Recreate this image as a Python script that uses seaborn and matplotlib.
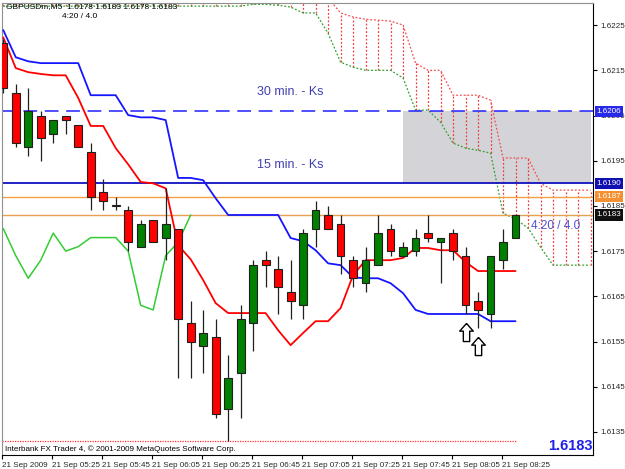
import numpy as np
import pandas as pd
import matplotlib
matplotlib.use("Agg")
import matplotlib.pyplot as plt
import matplotlib.transforms as mtransforms
import seaborn as sns

# ---- data (5 min GBPUSD bars, 21 Sep 2009) ----
opens = [1.6221, 1.6210, 1.6198, 1.6205, 1.6201, 1.6205, 1.6203, 1.6197, 1.6188, 1.6185,
         1.6184, 1.6176, 1.6182, 1.6178, 1.6180, 1.6159, 1.6154, 1.6156, 1.6140, 1.6148,
         1.6159, 1.6173, 1.6171, 1.6166, 1.6163, 1.6180, 1.6183, 1.6181, 1.6173, 1.6168,
         1.6172, 1.6180, 1.6174, 1.6175, 1.6179, 1.6177, 1.6179, 1.6174, 1.6164, 1.6161,
         1.6173, 1.6178]
highs = [1.6222, 1.6212, 1.6211, 1.6206, 1.6204, 1.6205, 1.6203, 1.6199, 1.6191, 1.6187,
         1.6185, 1.6182, 1.6182, 1.6189, 1.6180, 1.6164, 1.6162, 1.6160, 1.6152, 1.6163,
         1.6173, 1.6175, 1.6174, 1.6173, 1.6180, 1.6186, 1.6185, 1.6183, 1.6174, 1.6176,
         1.6183, 1.6181, 1.6177, 1.6180, 1.6183, 1.6178, 1.6180, 1.6176, 1.6166, 1.6174,
         1.6180, 1.6183]
lows = [1.6210, 1.6198, 1.6196, 1.6195, 1.6199, 1.6201, 1.6198, 1.6184, 1.6184, 1.6184,
        1.6175, 1.6176, 1.6177, 1.6173, 1.6147, 1.6147, 1.6148, 1.6138, 1.6133, 1.6138,
        1.6153, 1.6167, 1.6161, 1.6160, 1.6160, 1.6176, 1.6180, 1.6170, 1.6167, 1.6166,
        1.6172, 1.6174, 1.6174, 1.6174, 1.6177, 1.6168, 1.6173, 1.6161, 1.6158, 1.6158,
        1.6171, 1.6178]
closes = [1.6211, 1.6199, 1.6206, 1.6200, 1.6204, 1.6204, 1.6198, 1.6187, 1.6186, 1.6185,
          1.6177, 1.6181, 1.6177, 1.6181, 1.6160, 1.6155, 1.6157, 1.6139, 1.6147, 1.6160,
          1.6172, 1.6172, 1.6167, 1.6164, 1.6179, 1.6184, 1.6180, 1.6174, 1.6169, 1.6173,
          1.6179, 1.6175, 1.6176, 1.6178, 1.6178, 1.6178, 1.6175, 1.6163, 1.6162, 1.6174,
          1.6177, 1.6183]

tenkan = [1.62223, 1.62155, 1.62146, 1.62142, 1.62139, 1.62139, 1.62089, 1.62027, 1.62027, 1.61978,
          1.61942, 1.61903, 1.61900, 1.61889, 1.61763, 1.61732, 1.61686, 1.61635, 1.61613, 1.61613,
          1.61613, 1.61613, 1.61575, 1.61542, 1.61569, 1.61595, 1.61595, 1.61624, 1.61697, 1.61730,
          1.61730, 1.61730, 1.61735, 1.61757, 1.61757, 1.61752, 1.61752, 1.61726, 1.61706, 1.61706,
          1.61706, 1.61706]
kijun = [1.62239, 1.62179, 1.62170, 1.62166, 1.62166, 1.62166, 1.62166, 1.62095, 1.62095, 1.62095,
         1.62051, 1.62046, 1.62046, 1.62040, 1.61912, 1.61912, 1.61907, 1.61867, 1.61830, 1.61830,
         1.61830, 1.61830, 1.61830, 1.61779, 1.61772, 1.61752, 1.61723, 1.61719, 1.61692, 1.61690,
         1.61690, 1.61679, 1.61657, 1.61620, 1.61611, 1.61611, 1.61611, 1.61611, 1.61611, 1.61595,
         1.61595, 1.61595]

# senkou spans (shifted 26 bars ahead, so they run past the last candle)
span_a = [1.62310] * 27 + [1.62277, 1.62268, 1.62263, 1.62261, 1.62259, 1.62250, 1.62166,
                           1.62150, 1.62150, 1.62095, 1.62095, 1.62095, 1.62084, 1.61956,
                           1.61956, 1.61956, 1.61900, 1.61885, 1.61885, 1.61885, 1.61885]
span_b = [1.62292] * 20 + [1.62296, 1.62296, 1.62294, 1.62290, 1.62277, 1.62277, 1.62232,
                           1.62168, 1.62157, 1.62150, 1.62150, 1.62150, 1.62133, 1.62062,
                           1.62062, 1.62035, 1.61989, 1.61978, 1.61973, 1.61967, 1.61834,
                           1.61821, 1.61801, 1.61759, 1.61719, 1.61719, 1.61719, 1.61719]
chikou_shift = 26

time_labels = ["21 Sep 2009", "21 Sep 05:25", "21 Sep 05:45", "21 Sep 06:05", "21 Sep 06:25",
               "21 Sep 06:45", "21 Sep 07:05", "21 Sep 07:25", "21 Sep 07:45", "21 Sep 08:05",
               "21 Sep 08:25"]
price_ticks = [1.6225, 1.6215, 1.6205, 1.6195, 1.6185, 1.6175, 1.6165, 1.6155, 1.6145, 1.6135]

ks_30 = 1.6206
ks_15 = 1.6190
level_orange = 1.6187
bid = 1.6183
day_low = 1.6133
box_left, box_right, box_low, box_high = 32, 47, 1.6190, 1.6206
arrow_x = [37, 38]
arrow_y = [1.61571, 1.61541]

# ---- frame ----
df = pd.DataFrame({"bar": np.arange(len(opens)), "open": opens, "high": highs,
                   "low": lows, "close": closes, "tenkan": tenkan, "kijun": kijun})
cloud = pd.DataFrame({"bar": np.arange(len(span_a)), "a": span_a, "b": span_b})
chikou = pd.DataFrame({"bar": df["bar"][:-chikou_shift].values,
                       "val": df["close"][chikou_shift:].values})

sns.set_style("white")
plt.rcParams["font.family"] = ["Liberation Sans", "DejaVu Sans"]

fig = plt.figure(figsize=(6.25, 4.69), dpi=100)
ax = fig.add_axes([2 / 625, 14 / 469, 591 / 625, 452 / 469])

# gray rectangle zone
ax.axhspan(box_low, box_high, xmin=(box_left + 0.08) / 47.28, xmax=(box_right + 0.08) / 47.28,
           color="#d4d4d8", zorder=0, lw=0)

# cloud: dotted spans and dotted vertical hatch
ax.vlines(cloud["bar"], cloud["b"], cloud["a"], colors="#f03c3c", lw=0.9,
          linestyles=(0, (1.5, 1.5)), zorder=1)
sns.lineplot(data=cloud, x="bar", y="a", ax=ax, color="#f05050", lw=0.9,
             linestyle=(0, (1.5, 1.5)), zorder=1)
sns.lineplot(data=cloud, x="bar", y="b", ax=ax, color="#30a030", lw=0.9,
             linestyle=(0, (1.5, 1.5)), zorder=1)

# horizontal levels
ax.axhline(ks_30, color="#2020ff", lw=1.1, dashes=(9, 5), zorder=2)
ax.axhline(ks_15, color="#1010c0", lw=1.3, zorder=2)
ax.axhline(level_orange, color="#f5a040", lw=1.0, zorder=2)
ax.axhline(bid, color="#e8a050", lw=1.0, zorder=2)
ax.hlines(day_low, -0.1, len(opens) - 1, colors="#ff3030", lw=0.9,
          linestyles=(0, (1, 1)), zorder=2)

# ichimoku lines
sns.lineplot(data=df, x="bar", y="kijun", ax=ax, color="#1515ff", lw=1.3, zorder=3)
sns.lineplot(data=df, x="bar", y="tenkan", ax=ax, color="#ff0000", lw=1.3, zorder=3)
sns.lineplot(data=chikou, x="bar", y="val", ax=ax, color="#33cc33", lw=1.1, zorder=3)

# candles
up = df["close"] >= df["open"]
ax.vlines(df["bar"], df["low"], df["high"], colors="#202020", lw=0.9, zorder=4)
body_lo = np.minimum(df["open"], df["close"])
body_h = np.maximum(np.abs(df["close"] - df["open"]), 0.000015)
ax.bar(df["bar"], body_h, bottom=body_lo, width=0.62,
       color=np.where(up, "#008000", "#ff0000"), edgecolor="#202020", lw=0.8, zorder=5)

# arrows
arrow_marker = [(0, 1), (0.75, 0.15), (0.35, 0.15), (0.35, -1), (-0.35, -1),
                (-0.35, 0.15), (-0.75, 0.15), (0, 1)]
sns.scatterplot(x=arrow_x, y=arrow_y, ax=ax, marker=arrow_marker, s=170,
                color="white", edgecolor="black", linewidth=1.0, zorder=6)

# texts
tr = mtransforms.blended_transform_factory(ax.transAxes, ax.transData)
ax.text(0.432, ks_30 + 0.00035, "30 min. - Ks", color="#4040b0", fontsize=9, transform=tr)
ax.text(0.432, ks_15 + 0.00035, "15 min. - Ks", color="#4040b0", fontsize=9, transform=tr)
ax.text(len(opens) + 0.2, 1.61805, "4:20 / 4.0", color="#5050d8", fontsize=8.5,
        va="center", zorder=7)

fig.text(6 / 625, 1 - 7 / 469, "GBPUSDm,M5  1.6178 1.6183 1.6178 1.6183",
         fontsize=6, va="center", color="black")
fig.text(62 / 625, 1 - 16 / 469, "4:20 / 4.0", fontsize=6, va="center", color="black")
fig.text(5 / 625, 1 - 449 / 469,
         "Interbank FX Trader 4, \u00a9 2001-2009 MetaQuotes Software Corp.",
         fontsize=5.8, va="center", color="black")
fig.text(593 / 625, 1 - 446 / 469, "1.6183", fontsize=10.5, fontweight="bold",
         color="#2020e8", ha="right", va="center")

# right-hand price tags
for val, bg in [(ks_30, "#2828e8"), (ks_15, "#1010b0"), (level_orange, "#f59030"), (bid, "#101010")]:
    ax.text(1.006, val, f"{val:.4f}", transform=tr, fontsize=5.8, color="white",
            va="center", ha="left", zorder=8, clip_on=False,
            bbox=dict(boxstyle="square,pad=0.25", fc=bg, ec="none"))

# axes
ax.set_xlim(-0.08, 47.2)
ax.set_ylim(1.61299, 1.62299)
ax.yaxis.tick_right()
ax.set_yticks(price_ticks)
ax.set_yticklabels([f"{p:.4f}" for p in price_ticks])
ax.set_xticks([4 * i - 0.1 for i in range(len(time_labels))])
ax.set_xticklabels(time_labels, ha="left")
ax.tick_params(axis="both", labelsize=5.8, length=3, width=0.8, color="black", pad=2,
               direction="out", bottom=True, right=True, left=False)
ax.set_xlabel("")
ax.set_ylabel("")
for side in ["left", "top"]:
    ax.spines[side].set_color("#909090")
    ax.spines[side].set_linewidth(0.8)
for side in ["right", "bottom"]:
    ax.spines[side].set_color("#000000")
    ax.spines[side].set_linewidth(0.8)
    ax.spines[side].set_visible(True)

fig.savefig("out.png", dpi=100)
